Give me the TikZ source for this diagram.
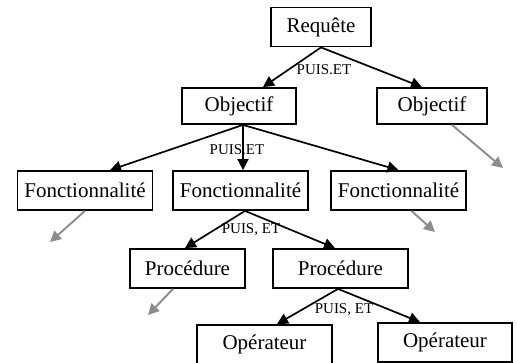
\documentclass[tikz,border=0pt]{standalone}
\usepackage{fontspec}
\setmainfont{Liberation Serif}
\usetikzlibrary{arrows.meta}
\definecolor{hintgray}{RGB}{140,140,140}
\begin{document}
\begin{tikzpicture}[x=1pt,y=-1pt,
    task/.style = {draw, line width=1.8pt, inner sep=0pt,
        minimum width=135pt, minimum height=39pt,
        font=\fontsize{21}{24}\selectfont},
    rel/.style = {inner sep=0pt, font=\fontsize{15}{17}\selectfont},
    link/.style = {line width=1.7pt, -{Triangle[length=11pt,width=11pt]}},
    more/.style = {line width=1.9pt, hintgray, -{Triangle[length=11pt,width=11pt]}}]

\useasboundingbox (0,0) rectangle (517,362);

% Requete
\node[task,minimum width=100pt] (req) at (321,27) {Requête};

% Objectifs
\node[task,minimum width=114pt,minimum height=36pt] (objA) at (239,106) {Objectif};
\node[task,minimum width=110pt,minimum height=36pt] (objB) at (432,106) {Objectif};

% Fonctionnalites
\node[task] (fonA) at (85,190.5) {Fonctionnalité};
\node[task] (fonB) at (240.5,190.5) {Fonctionnalité};
\node[task] (fonC) at (398.5,190.5) {Fonctionnalité};

% Procedures
\node[task,minimum width=115pt] (proA) at (187.5,268.5) {Procédure};
\node[task] (proB) at (340.5,268.5) {Procédure};

% Operateurs
\node[task] (opA) at (264.5,344.5) {Opérateur};
\node[task,minimum width=134pt] (opB) at (445,342.5) {Opérateur};

% Relations
\node[rel] (etA) at (324,70) {PUIS.ET};
\node[rel] (etB) at (237,150) {PUIS.ET};
\node[rel] (etC) at (251,230) {PUIS, ET};
\node[rel] (etD) at (344,310) {PUIS, ET};

% Decomposition
\draw[link] (req.south) -- ([xshift=24pt]objA.north);
\draw[link] (req.south) -- ([xshift=-10pt]objB.north);
\draw[link] ([xshift=4pt]objA.south) -- ([xshift=25pt]fonA.north);
\draw[link] ([xshift=4pt]objA.south) -- ([xshift=2.5pt]fonB.north);
\draw[link] ([xshift=4pt]objA.south) -- (fonC.north);
\draw[link] ([xshift=4.5pt]fonB.south) -- ([xshift=-2.5pt]proA.north);
\draw[link] ([xshift=4.5pt]fonB.south) -- ([xshift=-5.5pt]proB.north);
\draw[link] ([xshift=-2.5pt]proB.south) -- ([xshift=12.5pt]opA.north);
\draw[link] ([xshift=-2.5pt]proB.south) -- ([xshift=-25pt]opB.north);

% Suite non developpee
\coordinate (nA) at (503,168);
\coordinate (nB) at (50,242);
\coordinate (nC) at (435,232);
\coordinate (nD) at (148,315);
\draw[more] ([xshift=20pt]objB.south) -- (nA);
\draw[more] (fonA.south) -- (nB);
\draw[more] ([xshift=13pt]fonC.south) -- (nC);
\draw[more] ([xshift=-14.5pt]proA.south) -- (nD);

\end{tikzpicture}
\end{document}
